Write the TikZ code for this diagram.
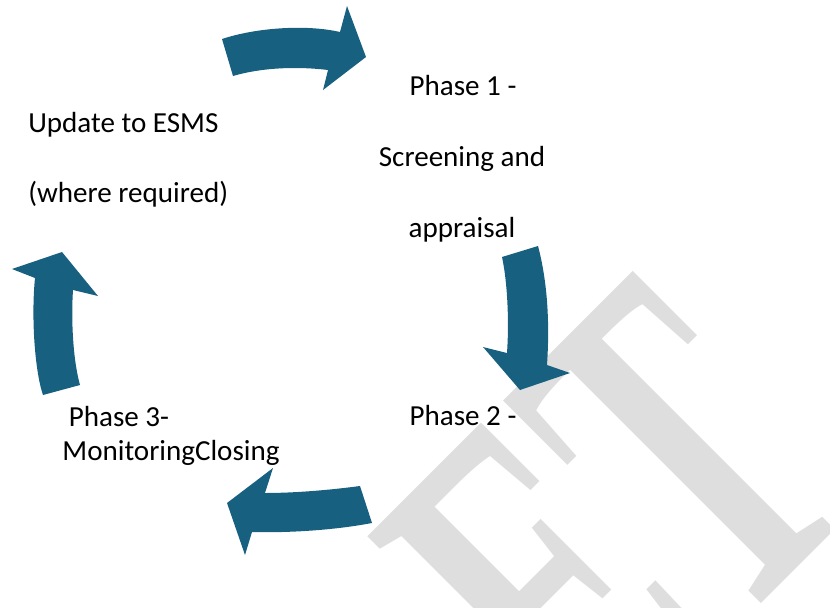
\documentclass[tikz,border=0pt]{standalone}
\usepackage{fontspec}
\setmainfont{Carlito}
\newfontfamily\wmfont{Liberation Serif}
\definecolor{cycleblue}{RGB}{23,96,128}
\definecolor{wmgray}{RGB}{222,222,222}

\begin{document}
\begin{tikzpicture}[x=0.75pt,y=0.75pt,yscale=-1,xscale=1,
  cyclearrow/.style={fill=cycleblue,draw=none},
  phasetext/.style={inner sep=0.75pt,font=\fontsize{21.8}{26}\selectfont}]
\path[use as bounding box] (0,0) rectangle (830,607);

%Watermark
\begin{scope}
\clip (0,0) rectangle (830,607);
\node[anchor=base west,inner sep=0pt,rotate=45,text=wmgray] (wm) at (594.5,770.5)
  {\wmfont\bfseries\fontsize{373}{373}\selectfont\scalebox{0.58}[1]{ET}};
\end{scope}

%Curved Arrow top
\draw [cyclearrow] (222,39) .. controls (255,28) and (305,24) .. (340,32) -- (347,6) -- (366,57) -- (323,90) -- (328,70) .. controls (295,66) and (260,68) .. (233,76) -- cycle ;
%Curved Arrow right
\draw [cyclearrow] (502,257) .. controls (508,285) and (509,325) .. (507,353) -- (483,347) -- (520,390) -- (570,373) -- (547,365) .. controls (550,320) and (547,280) .. (538,246) -- cycle ;
%Curved Arrow bottom
\draw [cyclearrow] (360,486) .. controls (330,490) and (295,493) .. (265,493) -- (273,468) -- (227,503) -- (245,555) -- (252,532) .. controls (290,533) and (335,530) .. (372,523) -- cycle ;
%Curved Arrow left
\draw [cyclearrow] (43,395) .. controls (35,372) and (31,318) .. (35,278) -- (12,269) -- (62,252) -- (98,296) -- (73,290) .. controls (71,320) and (73,360) .. (80,385) -- cycle ;

% Text Node
\draw (463,95) node [anchor=base][phasetext] (phaseone) {Phase 1 -};
% Text Node
\draw (462,166) node [anchor=base][phasetext] (screening) {Screening and};
% Text Node
\draw (462,237) node [anchor=base][phasetext] (appraisal) {appraisal};
% Text Node
\draw (27,132) node [anchor=base west][phasetext] (update) {Update to ESMS};
% Text Node
\draw (27,202) node [anchor=base west][phasetext] (required) {(where required)};
% Text Node
\draw (463,425) node [anchor=base][phasetext] (phasetwo) {Phase 2 -};
% Text Node
\draw (119,426) node [anchor=base][phasetext] (phasethree) {Phase 3-};
% Text Node
\draw (171,460) node [anchor=base][phasetext] (monitoring) {MonitoringClosing};

\end{tikzpicture}
\end{document}
